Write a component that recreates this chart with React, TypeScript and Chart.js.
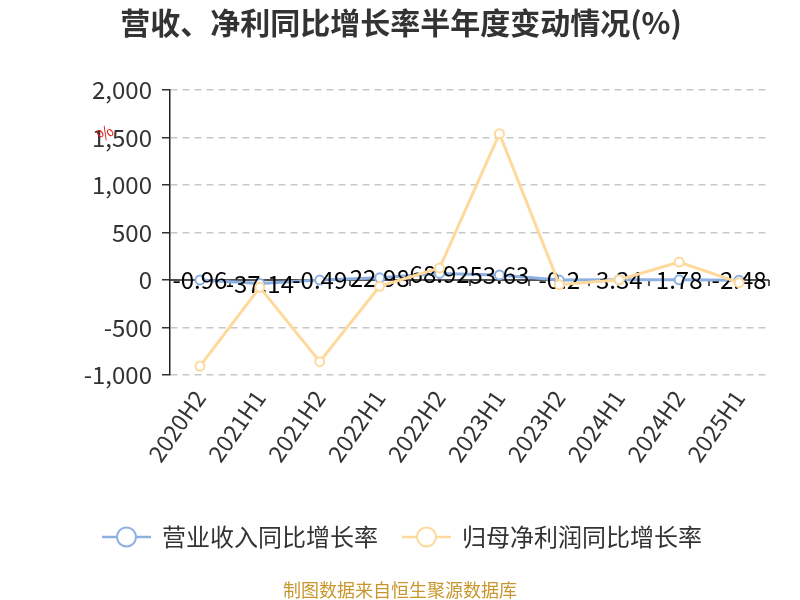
import React, { useEffect, useRef } from 'react';
import { Chart, registerables } from 'chart.js';

Chart.register(...registerables);

const periods = ['2020H2', '2021H1', '2021H2', '2022H1', '2022H2', '2023H1', '2023H2', '2024H1', '2024H2', '2025H1'];
const revenueGrowth = [-0.96, -37.14, -0.49, 22.98, 68.92, 53.63, -0.2, 3.34, 1.78, -2.48];
const profitGrowth = [-906, -77, -860, -66, 126, 1540, -49, 3, 189, -28];
const yTicks = [-1000, -500, 0, 500, 1000, 1500, 2000];

const BLUE = '#8eb0e1';
const ORANGE = '#fed99c';
const FONT = '"Noto Sans CJK SC", "Noto Sans", sans-serif';

const legendItems = [
  { label: '营业收入同比增长率', color: BLUE, x: 102 },
  { label: '归母净利润同比增长率', color: ORANGE, x: 402 },
];

const decorPlugin = {
  id: 'decor',
  beforeDatasetsDraw(chart: any) {
    // zero line with band ticks
    const { ctx, chartArea, scales } = chart;
    const y0 = scales.y.getPixelForValue(0);
    const band = (chartArea.right - chartArea.left) / periods.length;
    ctx.save();
    ctx.strokeStyle = '#222';
    ctx.lineWidth = 1.5;
    ctx.beginPath();
    ctx.moveTo(chartArea.left, y0);
    ctx.lineTo(chartArea.right, y0);
    for (let i = 1; i <= periods.length; i++) {
      const x = Math.round(chartArea.left + i * band);
      ctx.moveTo(x, y0);
      ctx.lineTo(x, y0 + 6);
    }
    ctx.stroke();
    ctx.restore();
  },
  afterDatasetDraw(chart: any, args: any) {
    if (args.index !== 0) return;
    const { ctx } = chart;
    ctx.save();
    ctx.font = `24px ${FONT}`;
    ctx.fillStyle = '#000';
    ctx.textAlign = 'center';
    ctx.textBaseline = 'middle';
    args.meta.data.forEach((pt: any, i: number) => {
      ctx.fillText(String(revenueGrowth[i]), pt.x, pt.y);
    });
    ctx.restore();
  },
  afterDraw(chart: any) {
    const { ctx } = chart;
    ctx.save();
    ctx.textAlign = 'center';
    ctx.textBaseline = 'middle';
    ctx.fillStyle = '#333';
    ctx.font = `bold 30px ${FONT}`;
    ctx.fillText('营收、净利同比增长率半年度变动情况(%)', 401, 23);

    // axis unit mark
    ctx.save();
    ctx.translate(105, 133);
    ctx.rotate(-Math.PI / 5);
    ctx.fillStyle = '#e02020';
    ctx.font = `17px ${FONT}`;
    ctx.fillText('%', 0, 0);
    ctx.restore();

    // legend
    const ly = 537;
    legendItems.forEach((item) => {
      ctx.strokeStyle = item.color;
      ctx.lineWidth = 2.5;
      ctx.beginPath();
      ctx.moveTo(item.x, ly);
      ctx.lineTo(item.x + 49, ly);
      ctx.stroke();
      ctx.beginPath();
      ctx.arc(item.x + 24.5, ly, 9.5, 0, Math.PI * 2);
      ctx.fillStyle = '#fff';
      ctx.fill();
      ctx.lineWidth = 2;
      ctx.stroke();
      ctx.fillStyle = '#333';
      ctx.textAlign = 'left';
      ctx.font = `24px ${FONT}`;
      ctx.fillText(item.label, item.x + 60, ly);
    });

    ctx.textAlign = 'center';
    ctx.fillStyle = '#c8962e';
    ctx.font = `18px ${FONT}`;
    ctx.fillText('制图数据来自恒生聚源数据库', 400, 590);
    ctx.restore();
  },
};

const App: React.FC = () => {
  const chartRef = useRef<HTMLCanvasElement | null>(null);

  useEffect(() => {
    if (!chartRef.current) return;
    const myChart = new Chart(chartRef.current, {
      type: 'line',
      data: {
        labels: periods,
        datasets: [
          {
            label: '营业收入同比增长率',
            data: revenueGrowth,
            borderColor: BLUE,
            borderWidth: 3,
            pointRadius: 4.5,
            pointBorderWidth: 2,
            pointBackgroundColor: '#fff',
            pointBorderColor: BLUE,
            order: 1,
          },
          {
            label: '归母净利润同比增长率',
            data: profitGrowth,
            borderColor: ORANGE,
            borderWidth: 3,
            pointRadius: 4.5,
            pointBorderWidth: 2,
            pointBackgroundColor: '#fff',
            pointBorderColor: ORANGE,
            order: 0,
          },
        ],
      },
      options: {
        responsive: false,
        animation: false,
        layout: { padding: { left: 0, right: 31, top: 90, bottom: 0 } },
        plugins: {
          legend: { display: false },
          title: { display: false },
          tooltip: { enabled: false },
        },
        scales: {
          x: {
            offset: true,
            grid: { display: false },
            border: { display: false },
            afterFit: (scale: any) => {
              scale.height = 225;
            },
            ticks: {
              color: '#333',
              font: { family: FONT, size: 23 },
              maxRotation: 55,
              minRotation: 55,
              padding: 2,
              autoSkip: false,
            },
          },
          y: {
            min: -1000,
            max: 2000,
            afterFit: (scale: any) => {
              scale.width = 170;
            },
            afterBuildTicks: (scale: any) => {
              scale.ticks = yTicks.map((v) => ({ value: v }));
            },
            grid: {
              color: '#c8c8c8',
              lineWidth: 1.5,
              tickColor: '#333',
              tickLength: 8,
              tickWidth: 1.5,
            },
            border: { color: '#222', width: 1.5, dash: [7, 5] },
            ticks: {
              color: '#333',
              font: { family: FONT, size: 24 },
              padding: 10,
              callback: (v: any) => Number(v).toLocaleString('en-US'),
            },
          },
        },
      },
      plugins: [decorPlugin],
    });
    return () => {
      myChart.destroy();
    };
  }, []);

  return (
    <div style={{ position: 'absolute', left: 0, top: 0, width: 800, height: 600, background: '#fff' }}>
      <canvas ref={chartRef} width={800} height={600} />
    </div>
  );
};

export default App;
